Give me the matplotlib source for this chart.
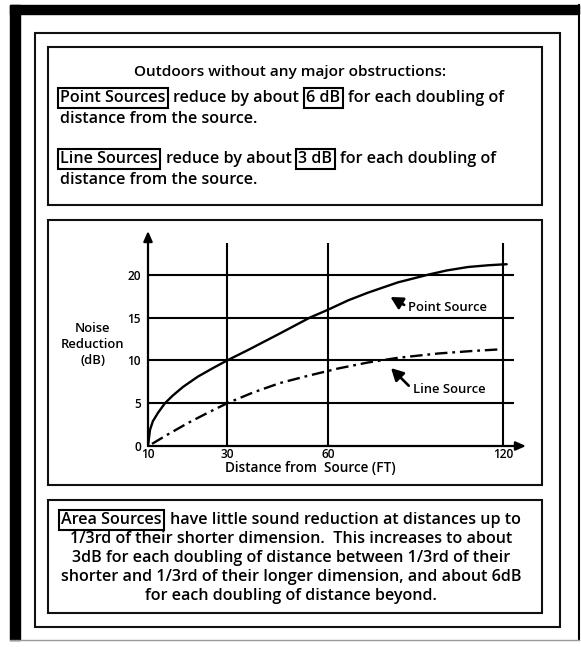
import numpy as np
import matplotlib.pyplot as plt
from matplotlib.patches import Rectangle

plt.rcParams['font.family'] = ['Open Sans', 'DejaVu Sans']
plt.rcParams['lines.scale_dashes'] = False

# values
dist_ticks = [10, 30, 60, 120]
db_ticks = [0, 5, 10, 15, 20]

ps_dist = [10, 10.45, 11.1, 12.3, 13.9, 15.8, 18.3, 22.1, 26.1, 30, 35.8, 45, 54.4, 60,
           66.5, 73, 83, 94, 100, 107.5, 114.7, 120, 121.4]
ps_db = [0, 1.9, 2.9, 3.9, 5.0, 5.9, 6.9, 8.1, 9.1, 10.0, 11.2, 13.1, 15.0, 15.9,
         17.0, 17.9, 19.1, 20.05, 20.5, 20.9, 21.1, 21.2, 21.22]

ls_dist = [10.9, 14.4, 19.6, 24.8, 30, 37.3, 45.2, 53.8, 63.3, 73, 83.1, 96.9, 109.3, 120]
ls_db = [0.25, 1.3, 2.7, 3.9, 5.0, 6.25, 7.35, 8.2, 9.05, 9.75, 10.3, 10.8, 11.1, 11.3]

W, H = 581, 647
fig = plt.figure(figsize=(W / 100, H / 100), dpi=100)

# background axes in pixel units for frames and text
bg = fig.add_axes([0, 0, 1, 1], zorder=0)
bg.set_xlim(0, W)
bg.set_ylim(H, 0)
bg.axis('off')


def box(x0, y0, x1, y1, lw=1.5, color='#111111'):
    bg.add_patch(Rectangle((x0, y0), x1 - x0, y1 - y0, fill=False, lw=lw, edgecolor=color))


# outer frame
bg.add_patch(Rectangle((10, 5), 569, 9, color='black'))
bg.add_patch(Rectangle((10, 5), 10, 635, color='black'))
bg.plot([579, 579], [5, 640], color='black', lw=1.5)
bg.plot([10, 579], [640, 640], color='#999999', lw=1)

box(35, 33, 560, 627)
box(48, 47, 542, 205)
box(48, 220, 542, 485)
box(48, 500, 542, 613)

renderer = fig.canvas.get_renderer()
boxprops = dict(boxstyle='square,pad=0.14', fc='none', ec='black', lw=1.5)
body = dict(fontweight='semibold')


def inline(x, y, parts, size):
    for s, boxed in parts:
        t = bg.text(x, y, s, fontsize=size, ha='left', va='center',
                    bbox=boxprops if boxed else None, **body)
        bb = t.get_window_extent(renderer)
        x = bg.transData.inverted().transform((bb.x1, 0))[0] + (8 if boxed else 7)


fs = 11.6
bg.text(290, 72, 'Outdoors without any major obstructions:', fontsize=11.1, ha='center',
        va='center', **body)
inline(60, 98, [('Point Sources', True), ('reduce by about', False), ('6 dB', True),
                ('for each doubling of', False)], fs)
bg.text(60, 119, 'distance from the source.', fontsize=fs, ha='left', va='center', **body)
inline(60, 159, [('Line Sources', True), ('reduce by about', False), ('3 dB', True),
                 ('for each doubling of', False)], fs)
bg.text(60, 180, 'distance from the source.', fontsize=fs, ha='left', va='center', **body)

inline(61, 520, [('Area Sources', True), ('have little sound reduction at distances up to', False)], fs)
area_lines = ['1/3rd of their shorter dimension.  This increases to about',
              '3dB for each doubling of distance between 1/3rd of their',
              'shorter and 1/3rd of their longer dimension, and about 6dB',
              'for each doubling of distance beyond.']
for i, s in enumerate(area_lines):
    bg.text(291, 539 + i * 19, s, fontsize=fs, ha='center', va='center', **body)

# chart axes
x0, x1 = 148, 526
y0, y1 = 446, 231
ax = fig.add_axes([x0 / W, (H - y0) / H, (x1 - x0) / W, (y0 - y1) / H], zorder=1)
ax.patch.set_alpha(0)
ax.set_xscale('function', functions=(lambda v: np.sign(v) * np.abs(v) ** 0.8,
                                     lambda v: np.sign(v) * np.abs(v) ** 1.25))
ax.set_xlim(10, 128.5)
ax.set_ylim(0, 25.1)
for s in ax.spines.values():
    s.set_visible(False)

ax.hlines(db_ticks[1:], 10, 124, color='black', lw=1.5)
ax.vlines(dist_ticks[1:], 0, 23.7, color='black', lw=1.5)

ax.plot(ps_dist, ps_db, color='black', lw=1.7, solid_capstyle='round', solid_joinstyle='round')
ax.plot(ls_dist, ls_db, color='black', lw=1.7, dashes=(9, 3.5, 2, 3.5))

arrow = dict(arrowstyle='-|>,head_length=0.5,head_width=0.22', lw=1.6, color='black',
             shrinkA=0, shrinkB=0, mutation_scale=12)
ax.annotate('', xy=(0, 1), xycoords='axes fraction', xytext=(0, 0), arrowprops=arrow)
ax.annotate('', xy=(1, 0), xycoords='axes fraction', xytext=(0, 0), arrowprops=arrow)

ax.set_xticks(dist_ticks)
ax.set_xticklabels([str(v) for v in dist_ticks])
ax.set_yticks(db_ticks)
ax.set_yticklabels([str(v) for v in db_ticks])
ax.minorticks_off()
ax.tick_params(axis='both', length=0, labelsize=8.6)
ax.tick_params(axis='x', pad=1.5)
ax.tick_params(axis='y', pad=5)
for lab in ax.get_xticklabels() + ax.get_yticklabels():
    lab.set_fontweight('semibold')

note_arrow = dict(arrowstyle='-|>,head_length=0.6,head_width=0.32', lw=1.9, color='black',
                  shrinkA=1, shrinkB=0, mutation_scale=12, relpos=(0, 0.5))
ax.annotate('Point Source', xy=(80.5, 17.4), xytext=(86.5, 16.2), fontsize=9.4,
            fontweight='semibold', ha='left', va='center', arrowprops=note_arrow)
ax.annotate('Line Source', xy=(80.7, 9.1), xytext=(88, 6.6), fontsize=9.4,
            fontweight='semibold', ha='left', va='center', arrowprops=note_arrow)

bg.text(93, 344, 'Noise\nReduction\n(dB)', fontsize=9.4, fontweight='semibold',
        ha='center', va='center', linespacing=1.3)
bg.text(310, 468, 'Distance from  Source (FT)', fontsize=9.8, fontweight='semibold',
        ha='center', va='center')

fig.savefig('out.png', dpi=100)
